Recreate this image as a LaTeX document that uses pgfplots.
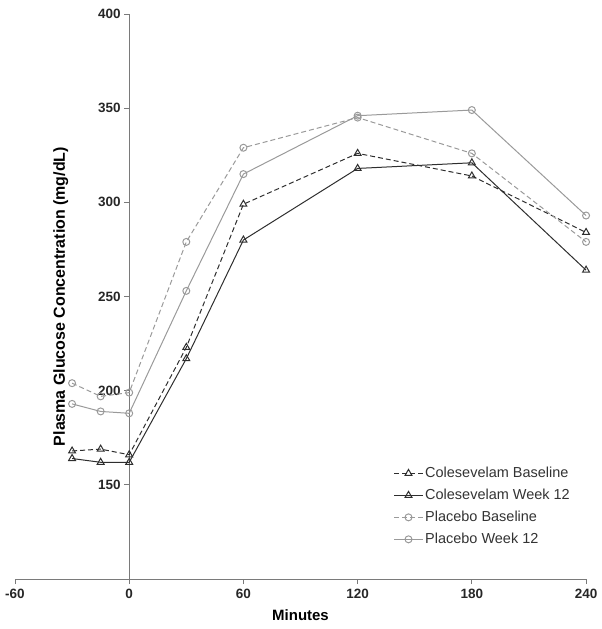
\documentclass[border=0pt]{standalone}
\usepackage{pgfplots}
\pgfplotsset{compat=1.18}
\usepackage{fontspec}
\setmainfont{Liberation Sans}
\definecolor{dk}{HTML}{2E2E2E}
\definecolor{lt}{HTML}{9A9A9A}
\definecolor{ax}{HTML}{7A7A7A}
\begin{document}
\begin{tikzpicture}
\useasboundingbox (-15pt,-50pt) rectangle (587pt,580pt);
\begin{axis}[
  scale only axis,
  width=572pt, height=566pt,
  xmin=-60, xmax=240, ymin=100, ymax=400,
  axis x line=bottom, axis y line=middle,
  axis line style={-, ax, line width=0.8pt},
  xtick={-60,0,60,120,180,240},
  ytick={150,200,250,300,350,400},
  tick align=outside, major tick length=5pt,
  tick style={ax, line width=0.8pt},
  /pgf/number format/assume math mode=true,
  ticklabel style={font=\fontsize{13.5}{15}\selectfont\bfseries, text=black!85},
  yticklabel style={anchor=east, xshift=0pt},
  xticklabel style={anchor=north, yshift=-1pt},
  xlabel={Minutes},
  xlabel style={font=\fontsize{15}{17}\selectfont\bfseries, at={(axis description cs:0.5,0)}, anchor=north, yshift=-27pt},
  ylabel={Plasma Glucose Concentration (mg/dL)},
  every axis y label/.style={at={(axis cs:-36,250)}, rotate=90, anchor=center, font=\fontsize{16}{18}\selectfont\bfseries},
  legend style={draw=none, fill=none, at={(rel axis cs:0.663,0.205)}, anchor=north west,
    font=\fontsize{14.5}{15.5}\selectfont, text=black!80, row sep=6pt,
    legend cell align=left, inner xsep=0pt},
  legend image code/.code={\draw[mark repeat=2,mark phase=2,#1] plot coordinates {(0cm,0cm) (0.5cm,0cm) (1cm,0cm)};},
  clip=false,
]
\addplot[dk, line width=1pt, dash pattern=on 5pt off 3pt, mark=triangle, mark size=4pt, mark options={solid, line width=1pt}]
 coordinates {(-30,168) (-15,169) (0,166) (30,223) (60,299) (120,326) (180,314) (240,284)};
\addlegendentry{Colesevelam Baseline}
\addplot[dk, line width=1pt, mark=triangle, mark size=4pt, mark options={solid, line width=1pt}]
 coordinates {(-30,164) (-15,162) (0,162) (30,217) (60,280) (120,318) (180,321) (240,264)};
\addlegendentry{Colesevelam Week 12}
\addplot[lt, line width=1pt, dash pattern=on 5pt off 3pt, mark=o, mark size=3.5pt, mark options={solid, line width=1pt}]
 coordinates {(-30,204) (-15,197) (0,199) (30,279) (60,329) (120,345) (180,326) (240,279)};
\addlegendentry{Placebo Baseline}
\addplot[lt, line width=1pt, mark=o, mark size=3.5pt, mark options={solid, line width=1pt}]
 coordinates {(-30,193) (-15,189) (0,188) (30,253) (60,315) (120,346) (180,349) (240,293)};
\addlegendentry{Placebo Week 12}
\end{axis}
\end{tikzpicture}
\end{document}
